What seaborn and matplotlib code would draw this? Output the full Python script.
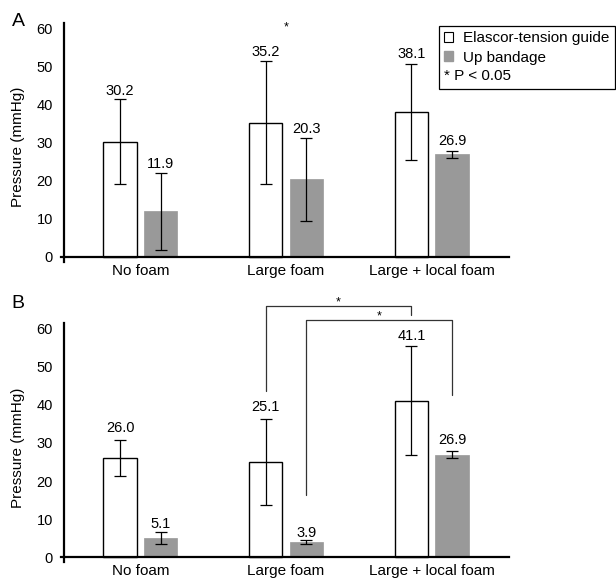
import matplotlib
matplotlib.use('Agg')
import matplotlib.pyplot as plt
import matplotlib.patches as mpatches
import matplotlib.text as mtext
from matplotlib.legend_handler import HandlerBase
import pandas as pd
import seaborn as sns

categories = ['No foam', 'Large foam', 'Large + local foam']
series = ['Elascor-tension guide', 'Up bandage']

a_elascor = [30.2, 35.2, 38.1]
a_elascor_err = [11.2, 16.1, 12.6]
a_bandage = [11.9, 20.3, 26.9]
a_bandage_err = [10.2, 10.9, 0.9]

b_elascor = [26.0, 25.1, 41.1]
b_elascor_err = [4.8, 11.3, 14.4]
b_bandage = [5.1, 3.9, 26.9]
b_bandage_err = [1.6, 0.5, 0.9]

GRAY = '#999999'

sns.set_theme(style='white', rc={
    'text.color': 'black', 'axes.labelcolor': 'black',
    'xtick.color': 'black', 'ytick.color': 'black',
})
plt.rcParams['font.family'] = ['Liberation Sans', 'DejaVu Sans']


class StarNote(HandlerBase):
    # legend row that is only text, starting where the handles start
    def create_artists(self, legend, orig_handle, xdescent, ydescent,
                       width, height, fontsize, trans):
        t = mtext.Text(-xdescent, -ydescent + height / 2, '* P < 0.05',
                       ha='left', va='center', fontsize=fontsize,
                       color='black', transform=trans)
        return [t]


def draw_panel(ax, elascor, elascor_err, bandage, bandage_err, nudges):
    df = pd.DataFrame({
        'category': categories * 2,
        'series': [series[0]] * 3 + [series[1]] * 3,
        'pressure': elascor + bandage,
    })
    sns.barplot(data=df, x='category', y='pressure', hue='series',
                order=categories, hue_order=series,
                palette={series[0]: 'white', series[1]: GRAY},
                saturation=1, width=0.558, gap=0.18, errorbar=None,
                legend=False, ax=ax)

    for bar in ax.containers[0]:
        bar.set_edgecolor('black')
        bar.set_linewidth(1.0)
    for bar in ax.containers[1]:
        bar.set_edgecolor(GRAY)
        bar.set_linewidth(0.5)

    groups = [(ax.containers[0], elascor, elascor_err, nudges[0]),
              (ax.containers[1], bandage, bandage_err, nudges[1])]
    for cont, vals, errs, nud in groups:
        for bar, v, e, n in zip(cont, vals, errs, nud):
            x = bar.get_x() + bar.get_width() / 2
            ax.errorbar(x, v, yerr=e, fmt='none', ecolor='black',
                        elinewidth=0.9, capsize=4, capthick=0.9)
            ax.annotate(f'{v:.1f}', (x, v + e), xytext=(0, n * 0.72),
                        textcoords='offset points', ha='center',
                        va='baseline', fontsize=10.5)

    ax.set_xlim(-0.545, 2.529)
    ax.set_ylim(-1.3, 61.4)
    ax.set_yticks(range(0, 61, 10))
    ax.spines['top'].set_visible(False)
    ax.spines['right'].set_visible(False)
    ax.spines['left'].set_position(('data', -0.523))
    ax.spines['bottom'].set_position(('data', 0))
    ax.spines['left'].set_linewidth(1.6)
    ax.spines['bottom'].set_linewidth(1.6)
    ax.spines['left'].set_color('black')
    ax.spines['bottom'].set_color('black')
    ax.tick_params(axis='y', length=0, pad=8, labelsize=10.5)
    ax.tick_params(axis='x', length=0, pad=5, labelsize=11)
    ax.set_xlabel('')
    ax.set_ylabel('Pressure (mmHg)', fontsize=11)
    ax.yaxis.set_label_coords(-0.08, 0.48)


def centre(bar):
    return bar.get_x() + bar.get_width() / 2


fig = plt.figure(figsize=(6.16, 5.8), dpi=100)
ax_a = fig.add_axes([0.099, 0.5488, 0.727, 0.412])
ax_b = fig.add_axes([0.099, 0.0307, 0.727, 0.412])

# gap (px) between error-bar top and the value label
draw_panel(ax_a, a_elascor, a_elascor_err, a_bandage, a_bandage_err,
           ([4, 5, 6], [5, 5, 6]))
draw_panel(ax_b, b_elascor, b_elascor_err, b_bandage, b_bandage_err,
           ([8, 8, 6], [4, 3.5, 7]))

# significance marks
ax_a.text(1, 59.3, '*', ha='center', va='baseline', fontsize=9)

x1, x2 = centre(ax_b.containers[0][1]), centre(ax_b.containers[0][2])
ax_b.plot([x1, x1, x2, x2], [43.6, 65.8, 65.8, 63.5], color='#333333',
          lw=0.9, clip_on=False)
ax_b.text((x1 + x2) / 2, 66.0, '*', ha='center', va='baseline', fontsize=9)

x1, x2 = centre(ax_b.containers[1][1]), centre(ax_b.containers[1][2])
ax_b.plot([x1, x1, x2, x2], [16.2, 62.2, 62.2, 42.5], color='#333333',
          lw=0.9, clip_on=False)
ax_b.text((x1 + x2) / 2, 62.4, '*', ha='center', va='baseline', fontsize=9)

# legend
note = mpatches.Patch()
handles = [mpatches.Patch(facecolor='white', edgecolor='black', linewidth=0.8),
           mpatches.Patch(facecolor=GRAY, edgecolor=GRAY),
           note]
leg = ax_a.legend(handles, series + [''], handler_map={note: StarNote()},
                  loc='upper right', bbox_to_anchor=(615 / 616, 1 - 25.7 / 580),
                  bbox_transform=fig.transFigure, borderaxespad=0, fontsize=11,
                  handlelength=0.6, handleheight=0.6, handletextpad=0.65,
                  borderpad=0.35, labelspacing=0.36, frameon=True,
                  fancybox=False, edgecolor='black', framealpha=1)
leg.get_frame().set_linewidth(0.9)

fig.text(11.5 / 616, 1 - 22 / 580, 'A', fontsize=14, va='center', ha='left')
fig.text(11.5 / 616, 1 - 303 / 580, 'B', fontsize=14, va='center', ha='left')

fig.savefig('out.png', dpi=100)
